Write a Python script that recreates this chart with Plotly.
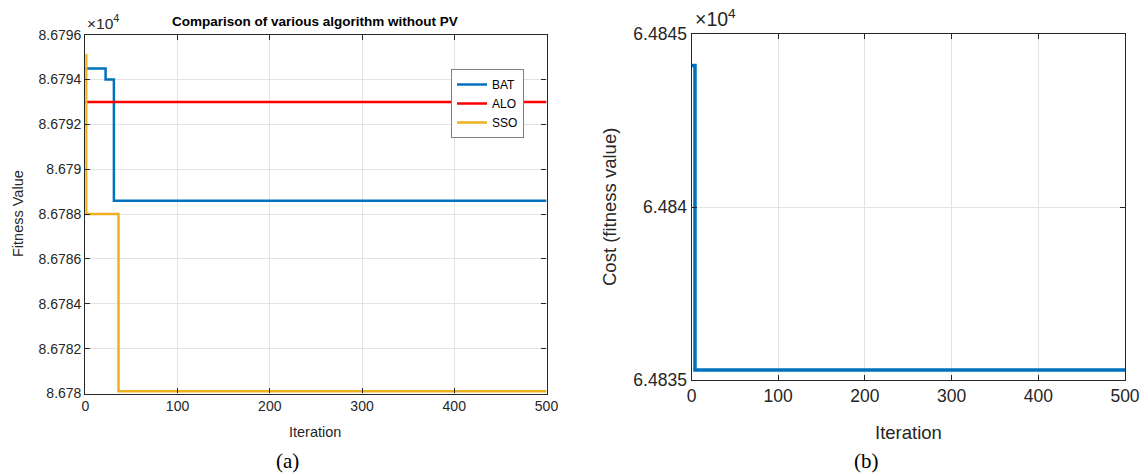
import plotly.graph_objects as go

# ---------------- data ----------------
# (a) Comparison without PV: step changes of best fitness vs. iteration
bat_iter = [0, 22, 31, 500]
bat_val = [86794.49, 86794.00, 86788.60, 86788.60]
alo_iter = [0, 500]
alo_val = [86793.00, 86793.00]
sso_iter = [0, 1, 36, 500]
sso_val = [86795.10, 86788.00, 86780.10, 86780.10]

# (b) Cost convergence
cost_iter = [0, 4, 500]
cost_val = [64844.10, 64835.30, 64835.30]

scale = 1e4
left_ticks = [8.6780, 8.6782, 8.6784, 8.6786, 8.6788, 8.6790, 8.6792, 8.6794, 8.6796]
right_ticks = [6.4835, 6.4840, 6.4845]
x_ticks = [0, 100, 200, 300, 400, 500]

W, H = 1147, 474
SANS = "Liberation Sans, Arial, Helvetica, sans-serif"
SERIF = "Liberation Serif, Times New Roman, serif"
AX = "#262626"
GRID = "#e3e3e3"


def px(x):
    return x / W


def py(y):
    return 1 - y / H


def fmt(v):
    s = f"{v:.4f}".rstrip("0").rstrip(".")
    return s


fig = go.Figure()

fig.add_trace(go.Scatter(x=bat_iter, y=[v / scale for v in bat_val], mode="lines",
                         line=dict(color="#0072BD", width=2.5, shape="hv"), name="BAT",
                         xaxis="x", yaxis="y"))
fig.add_trace(go.Scatter(x=alo_iter, y=[v / scale for v in alo_val], mode="lines",
                         line=dict(color="#FF0000", width=2.5, shape="hv"), name="ALO",
                         xaxis="x", yaxis="y"))
fig.add_trace(go.Scatter(x=sso_iter, y=[v / scale for v in sso_val], mode="lines",
                         line=dict(color="#EDB120", width=2.5, shape="hv"), name="SSO",
                         xaxis="x", yaxis="y"))
fig.add_trace(go.Scatter(x=cost_iter, y=[v / scale for v in cost_val], mode="lines",
                         line=dict(color="#0072BD", width=3.5, shape="hv"), name="Cost",
                         showlegend=False, xaxis="x2", yaxis="y2"))

axis_common = dict(showline=True, linecolor=AX, linewidth=1.2, mirror="ticks",
                   ticks="inside", tickcolor=AX, ticklen=5, showgrid=True,
                   gridcolor=GRID, gridwidth=1, zeroline=False, automargin=False)

fig.update_layout(
    width=W, height=H,
    margin=dict(l=0, r=0, t=0, b=0),
    paper_bgcolor="white", plot_bgcolor="white",
    xaxis=dict(domain=[px(85.3), px(546.5)], range=[0, 500], anchor="y",
               tickvals=x_ticks, ticktext=[str(t) for t in x_ticks],
               tickfont=dict(family=SANS, size=14, color=AX), **axis_common),
    yaxis=dict(domain=[py(393.5), py(34.7)], range=[left_ticks[0], left_ticks[-1]], anchor="x",
               tickvals=left_ticks, ticktext=[fmt(t) for t in left_ticks],
               tickfont=dict(family=SANS, size=14, color=AX), **axis_common),
    xaxis2=dict(domain=[px(691.5), px(1125)], range=[0, 500], anchor="y2",
                tickvals=x_ticks, ticktext=[str(t) for t in x_ticks],
                tickfont=dict(family=SANS, size=17.5, color=AX), **axis_common),
    yaxis2=dict(domain=[py(380.3), py(34.3)], range=[right_ticks[0], right_ticks[-1]], anchor="x2",
                tickvals=right_ticks, ticktext=[fmt(t) for t in right_ticks],
                tickfont=dict(family=SANS, size=17.5, color=AX), **axis_common),
    legend=dict(x=px(451), y=py(69), xanchor="left", yanchor="top",
                bgcolor="white", bordercolor="#808080", borderwidth=1,
                font=dict(family=SANS, size=12, color="#000000"),
                tracegroupgap=0, itemwidth=30),
    showlegend=True,
)

ann = [
    # left panel
    dict(text="<b>Comparison of various algorithm without PV</b>", x=px(315), y=py(21),
         font=dict(family=SANS, size=13.5, color="#000000")),
    dict(text="×10<sup>4</sup>", x=px(85), y=py(22), xanchor="left",
         font=dict(family=SANS, size=15.5, color=AX)),
    dict(text="Fitness Value", x=px(18), y=py(214), textangle=-90,
         font=dict(family=SANS, size=14.5, color=AX)),
    dict(text="Iteration", x=px(315), y=py(432),
         font=dict(family=SANS, size=14.5, color=AX)),
    dict(text="(a)", x=px(287), y=py(461),
         font=dict(family=SERIF, size=21, color="#000000")),
    # right panel
    dict(text="×10<sup>4</sup>", x=px(693), y=py(18), xanchor="left",
         font=dict(family=SANS, size=19.5, color=AX)),
    dict(text="Cost (fitness value)", x=px(609), y=py(207), textangle=-90,
         font=dict(family=SANS, size=18.5, color=AX)),
    dict(text="Iteration", x=px(908), y=py(432),
         font=dict(family=SANS, size=18.5, color=AX)),
    dict(text="(b)", x=px(866), y=py(461),
         font=dict(family=SERIF, size=21, color="#000000")),
]
for a in ann:
    a.update(xref="paper", yref="paper", showarrow=False)
    a.setdefault("xanchor", "center")
    a.setdefault("yanchor", "middle")
fig.update_layout(annotations=ann)

fig.write_html(
    "out.html",
    config={"displayModeBar": False},
    post_script="document.body.style.margin='0';document.body.style.padding='0';"
                "document.body.style.overflow='hidden';",
)
